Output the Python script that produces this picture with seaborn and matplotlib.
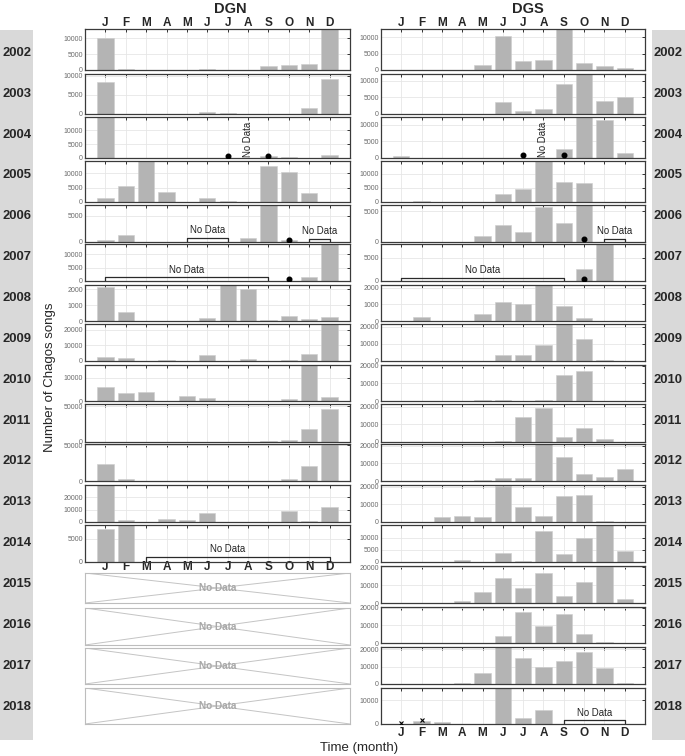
import numpy as np
import pandas as pd
import matplotlib
matplotlib.use("Agg")
import matplotlib.pyplot as plt
from matplotlib.patches import Rectangle
import seaborn as sns

nan = np.nan
months = list(range(1, 13))
month_labels = ['J', 'F', 'M', 'A', 'M', 'J', 'J', 'A', 'S', 'O', 'N', 'D']
years = list(range(2002, 2019))

# ---- DGN monthly song counts (NaN = no data) ----
dgn_2002 = [10000, 200, 0, 0, 0, 200, 0, 0, 1200, 1500, 1800, 15000]
dgn_2003 = [8500, 0, 0, 0, 0, 500, 250, 0, 0, 0, 1500, 9100]
dgn_2004 = [16000, 0, 100, 0, 0, 0, 0, nan, 800, 400, 100, 900]
dgn_2005 = [1500, 5600, 16000, 3400, 0, 1500, 400, 0, 12700, 10400, 3200, 0]
dgn_2006 = [300, 1300, 0, 0, nan, nan, nan, 850, 8000, 300, nan, nan]
dgn_2007 = [nan, nan, nan, nan, nan, nan, nan, nan, nan, 0, 1400, 15000]
dgn_2008 = [2130, 550, 0, 0, 30, 180, 2500, 2000, 50, 340, 150, 230]
dgn_2009 = [2700, 2100, 0, 700, 0, 3600, 0, 1300, 0, 500, 4600, 26000]
dgn_2010 = [6100, 3600, 3700, 200, 2300, 1300, 0, 0, 200, 800, 17000, 1800]
dgn_2011 = [0, 0, 0, 0, 0, 0, 0, 0, 800, 2800, 18000, 45800]
dgn_2012 = [24000, 2800, 0, 0, 500, 0, 0, 0, 0, 3200, 20400, 55000]
dgn_2013 = [32000, 1600, 300, 2200, 1600, 7100, 0, 0, 400, 8700, 800, 12000]
dgn_2014 = [7150, 8500, nan, nan, nan, nan, nan, nan, nan, nan, nan, nan]
dgn_values = [dgn_2002, dgn_2003, dgn_2004, dgn_2005, dgn_2006, dgn_2007, dgn_2008,
              dgn_2009, dgn_2010, dgn_2011, dgn_2012, dgn_2013, dgn_2014]

# ---- DGS monthly song counts ----
dgs_2002 = [150, 0, 0, 0, 1400, 10600, 2700, 3200, 14000, 2000, 1300, 700]
dgs_2003 = [0, 0, 0, 0, 0, 3500, 1000, 1400, 9000, 13000, 3900, 5000]
dgs_2004 = [500, 100, 0, 0, 0, 100, 0, nan, 2700, 13000, 11300, 1600]
dgs_2005 = [0, 200, 0, 0, 100, 2900, 4600, 15000, 6900, 6600, 0, 0]
dgs_2006 = [0, 0, 0, 0, 900, 2700, 1550, 5700, 3100, 7000, nan, nan]
dgs_2007 = [nan, nan, nan, nan, nan, nan, nan, nan, nan, 2500, 8500, 100]
dgs_2008 = [0, 230, 0, 0, 420, 1150, 1000, 2400, 920, 190, 0, 0]
dgs_2009 = [0, 0, 0, 0, 0, 3600, 3200, 9100, 23000, 12900, 300, 0]
dgs_2010 = [0, 0, 0, 0, 800, 600, 0, 300, 14900, 16700, 0, 0]
dgs_2011 = [0, 0, 0, 0, 0, 600, 14000, 19500, 3000, 7900, 1900, 0]
dgs_2012 = [0, 0, 0, 0, 300, 1500, 1500, 23000, 13600, 4000, 2500, 6600]
dgs_2013 = [0, 0, 2600, 3400, 2800, 20300, 8300, 3200, 15000, 15400, 400, 0]
dgs_2014 = [0, 0, 0, 700, 0, 3600, 500, 12900, 3300, 9900, 16500, 4400]
dgs_2015 = [0, 0, 0, 1000, 6000, 13900, 8400, 16700, 3800, 11800, 22000, 2200]
dgs_2016 = [0, 0, 0, 0, 0, 3800, 17600, 9400, 16300, 5300, 700, 0]
dgs_2017 = [0, 0, 0, 300, 6500, 23000, 15000, 10000, 13100, 18400, 9200, 600]
dgs_2018 = [0, 1400, 850, 0, 0, 17000, 2700, 5900, nan, nan, nan, nan]
dgs_values = [dgs_2002, dgs_2003, dgs_2004, dgs_2005, dgs_2006, dgs_2007, dgs_2008,
              dgs_2009, dgs_2010, dgs_2011, dgs_2012, dgs_2013, dgs_2014, dgs_2015,
              dgs_2016, dgs_2017, dgs_2018]

# y-axis ranges and ticks per panel
dgn_ymax = [13000, 10500, 14700, 14300, 7100, 13900, 2280, 23600, 15450, 52800, 51400, 30000, 7940]
dgn_yticks = [[0, 5000, 10000], [0, 5000, 10000], [0, 5000, 10000], [0, 5000, 10000],
              [0, 5000], [0, 5000, 10000], [0, 1000, 2000], [0, 10000, 20000],
              [0, 10000], [0, 50000], [0, 50000], [0, 10000, 20000], [0, 5000]]
dgs_ymax = [12600, 12000, 12300, 14400, 6030, 7940, 2160, 21500, 20300, 21600, 21100,
            21100, 15200, 20700, 20400, 21300, 15200]
dgs_yticks = [[0, 5000, 10000], [0, 5000, 10000], [0, 5000, 10000], [0, 5000, 10000],
              [0, 5000], [0, 5000], [0, 1000, 2000], [0, 10000, 20000],
              [0, 10000, 20000], [0, 10000, 20000], [0, 10000, 20000], [0, 10000, 20000],
              [0, 5000, 10000], [0, 10000, 20000], [0, 10000, 20000], [0, 10000, 20000],
              [0, 10000]]

# dot markers (site, year, month, value)
dot_site = ['DGN', 'DGN', 'DGN', 'DGN', 'DGS', 'DGS', 'DGS', 'DGS']
dot_year = [2004, 2004, 2006, 2007, 2004, 2004, 2006, 2007]
dot_month = [7, 9, 10, 10, 7, 9, 10, 10]
dot_value = [700, 700, 460, 640, 800, 800, 490, 520]

# cross markers
cross_site = ['DGS', 'DGS']
cross_year = [2018, 2018]
cross_month = [1, 2]
cross_value = [600, 1500]

# "No Data" brackets
nd_site = ['DGN', 'DGN', 'DGN', 'DGN', 'DGS', 'DGS', 'DGS']
nd_year = [2006, 2006, 2007, 2014, 2006, 2007, 2018]
nd_start = [5, 11, 1, 3, 11, 1, 9]
nd_end = [7, 12, 9, 12, 12, 9, 12]
nd_height = [770, 580, 1400, 1160, 490, 730, 1500]
nd_text_x = [6, 11.5, 5, 7, 11.5, 5, 10.5]

# vertical "No Data" labels
ndv_site = ['DGN', 'DGS']
ndv_year = [2004, 2004]
ndv_month = [8, 8]

# years with no DGN recordings at all
dgn_empty_years = [2015, 2016, 2017, 2018]

# ---------------- layout (pixels) ----------------
W, H = 685, 756
row_top = [29, 74, 117, 161, 205, 244, 285, 324, 365, 404, 444, 485, 525, 566, 607, 647, 688]
row_bot = [70, 114, 158, 202, 242, 281, 321, 361, 401, 442, 481, 522, 562, 603, 643, 684, 724]
empty_top = [573, 608, 648, 688]
empty_bot = [603, 645, 684, 724]
site_x = {'DGN': (85, 350), 'DGS': (381, 645)}

sns.set_theme(style="white")
plt.rcParams['font.family'] = ['Liberation Sans', 'DejaVu Sans']

fig = plt.figure(figsize=(W / 100, H / 100), dpi=100)

BAR = '#b4b4b4'
SPINE = '#3a3a3a'


def px_axes(x0, x1, top, bot):
    return fig.add_axes([x0 / W, 1 - bot / H, (x1 - x0) / W, (bot - top) / H])


# grey side strips
for x0 in (0, 652):
    fig.patches.append(Rectangle((x0 / W, 1 - 740 / H), 33 / W, 710 / H,
                                 transform=fig.transFigure, facecolor='#d9d9d9',
                                 edgecolor='none', zorder=0))

for i, y in enumerate(years):
    yc = 1 - (52.8 + 40.87 * i) / H
    fig.text(17 / W, yc, str(y), ha='center', va='center', fontsize=9.4, fontweight='bold')
    fig.text(668 / W, yc, str(y), ha='center', va='center', fontsize=9.4, fontweight='bold')


def draw_panel(site, idx, values, ymax, yticks):
    year = years[idx]
    x0, x1 = site_x[site]
    ax = px_axes(x0, x1, row_top[idx], row_bot[idx])
    df = pd.DataFrame({'month': months, 'songs': values}).dropna()
    sns.barplot(data=df, x='month', y='songs', ax=ax, native_scale=True,
                color=BAR, saturation=1, width=0.8, errorbar=None,
                edgecolor='#cdcdcd', linewidth=0.4, zorder=2)
    ax.set_xlim(0, 13)
    ax.set_ylim(0, ymax)
    ax.set_xticks(months)
    ax.set_xticklabels(month_labels, fontweight='bold', fontsize=8.5)
    ax.set_yticks(yticks)
    ax.set_yticklabels([str(t) for t in yticks])
    ax.set_xlabel('')
    ax.set_ylabel('')
    ax.grid(True, color='#e6e6e6', linewidth=0.6)
    ax.set_axisbelow(True)
    for s in ax.spines.values():
        s.set_color(SPINE)
        s.set_linewidth(0.9)
    ax.tick_params(axis='both', direction='in', top=True, right=True, length=2.5,
                   width=0.7, color='#333333')
    ax.tick_params(axis='y', labelsize=5.0, labelcolor='#6a6a6a', pad=1.5)
    if idx == 0:
        ax.tick_params(axis='x', labeltop=True, labelbottom=False, pad=0.2)
    elif (site == 'DGN' and year == 2014) or (site == 'DGS' and year == 2018):
        ax.tick_params(axis='x', labelbottom=True, pad=-1.0 if site == 'DGN' else 1.8)
    else:
        ax.tick_params(axis='x', labelbottom=False)

    for s_, y_, m_, v_ in zip(dot_site, dot_year, dot_month, dot_value):
        if s_ == site and y_ == year:
            ax.plot(m_, v_, 'o', color='black', ms=3.3, zorder=4)
    for s_, y_, m_, v_ in zip(cross_site, cross_year, cross_month, cross_value):
        if s_ == site and y_ == year:
            ax.plot(m_, v_, 'x', color='black', ms=3, mew=0.8, zorder=4)
    for s_, y_, a, b, h, tx in zip(nd_site, nd_year, nd_start, nd_end, nd_height, nd_text_x):
        if s_ == site and y_ == year:
            ax.plot([a, a, b, b], [0, h, h, 0], color='#2a2a2a', lw=0.9, zorder=3)
            ax.annotate('No Data', xy=(tx, h), xytext=(0, 1.8), textcoords='offset points',
                        ha='center', va='bottom', fontsize=6.9, color='#222222')
    for s_, y_, m_ in zip(ndv_site, ndv_year, ndv_month):
        if s_ == site and y_ == year:
            ax.annotate('No Data', xy=(m_, 0), xytext=(0, 0.6), textcoords='offset points',
                        rotation=90, ha='center', va='bottom', fontsize=6.9, color='#222222')
    return ax


for i, vals in enumerate(dgn_values):
    draw_panel('DGN', i, vals, dgn_ymax[i], dgn_yticks[i])
for i, vals in enumerate(dgs_values):
    draw_panel('DGS', i, vals, dgs_ymax[i], dgs_yticks[i])

# empty DGN panels
for k, y in enumerate(dgn_empty_years):
    x0, x1 = site_x['DGN']
    ax = px_axes(x0, x1, empty_top[k], empty_bot[k])
    ax.set_xlim(0, 1)
    ax.set_ylim(0, 1)
    ax.plot([0, 1], [1, 0], color='#c4c4c4', lw=0.7)
    ax.plot([0, 1], [0, 1], color='#c4c4c4', lw=0.7)
    ax.text(0.5, 0.5, 'No Data', ha='center', va='center', fontsize=7.2,
            fontweight='bold', color='#a8a8a8')
    ax.set_xticks([])
    ax.set_yticks([])
    for s in ax.spines.values():
        s.set_color('#bdbdbd')
        s.set_linewidth(0.8)

fig.text(230 / W, 1 - 9 / H, 'DGN', ha='center', va='center', fontsize=10.5, fontweight='bold')
fig.text(528 / W, 1 - 9 / H, 'DGS', ha='center', va='center', fontsize=10.5, fontweight='bold')
fig.text(50 / W, 1 - 377 / H, 'Number of Chagos songs', rotation=90, ha='center',
         va='center', fontsize=9.5)
fig.text(359 / W, 1 - 748 / H, 'Time (month)', ha='center', va='center', fontsize=9.5)

fig.savefig('out.png', dpi=100)
